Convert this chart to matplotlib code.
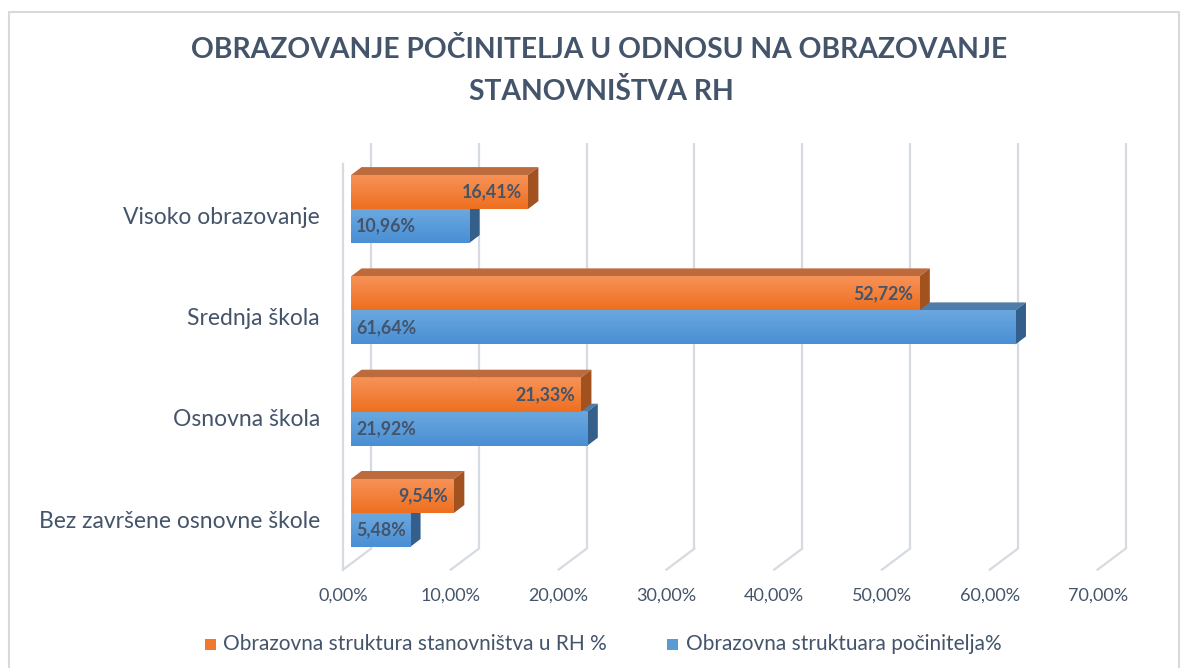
import numpy as np
import matplotlib
matplotlib.use("Agg")
import matplotlib.pyplot as plt
from matplotlib.patches import Polygon, Rectangle
from matplotlib.colors import LinearSegmentedColormap

# ---- data ----
categories = ["Bez završene osnovne škole", "Osnovna škola", "Srednja škola", "Visoko obrazovanje"]
populacija = [9.54, 21.33, 52.72, 16.41]      # Obrazovna struktura stanovništva u RH %
pocinitelji = [5.48, 21.92, 61.64, 10.96]     # Obrazovna struktuara počinitelja%
series_names = ["Obrazovna struktura stanovništva u RH %", "Obrazovna struktuara počinitelja%"]
xticks = [0, 10, 20, 30, 40, 50, 60, 70]
title = "OBRAZOVANJE POČINITELJA U ODNOSU NA OBRAZOVANJE\nSTANOVNIŠTVA RH"

TXT = "#44546a"
FONT = "Lato"

W, H = 1182, 668
fig = plt.figure(figsize=(W / 100, H / 100), dpi=100)
ax = fig.add_axes([0, 0, 1, 1])
ax.axis("off")

# pixel scale of the plot (layout)
PXX = 10.78      # px per percent
PXY = 101.3      # px per category
X0 = 351         # px of 0 at bar front plane
Y0 = 513         # px of first category centre
ax.set_xlim(-X0 / PXX, (W - X0) / PXX)
ax.set_ylim((Y0 - H) / PXY, Y0 / PXY)

def dx(p):
    return p / PXX

def dy(p):
    return p / PXY

# ---- walls / gridlines ----
GRID = "#d6dae1"
back = (dx(20), dy(15))
front = (dx(-8), dy(-6))
ylo, yhi = -0.5, len(categories) - 0.5
for v in xticks:
    bx = v + back[0]
    ax.plot([bx, bx], [ylo + back[1], yhi + back[1]], color=GRID, lw=1.6, zorder=1,
            solid_capstyle="butt")
    ax.plot([bx, v + front[0]], [ylo + back[1], ylo + front[1]], color=GRID, lw=1.6, zorder=1)
    ax.text(v + front[0], (Y0 - 596) / PXY, f"{v:.2f}%".replace(".", ","), ha="center",
            va="center", fontsize=13, color=TXT, family=FONT)
ax.plot([front[0], front[0]], [ylo + front[1], yhi + front[1]], color=GRID, lw=1.6, zorder=1)

# ---- bars ----
BH = dy(34)
DX, DY = dx(10.5), dy(8)

cm_or = LinearSegmentedColormap.from_list("or", ["#ee6f1f", "#f79257"])
cm_bl = LinearSegmentedColormap.from_list("bl", ["#4a8fd4", "#6aa8df"])
grad = np.linspace(0, 1, 64).reshape(-1, 1)


def bar3d(x, y0, cmap, top_c, side_c, z):
    y1 = y0 + BH
    # top face
    ax.add_patch(Polygon([(0, y1), (x, y1), (x + DX, y1 + DY), (DX, y1 + DY)],
                         closed=True, fc=top_c, ec="none", zorder=z))
    # side face
    ax.add_patch(Polygon([(x, y0), (x + DX, y0 + DY), (x + DX, y1 + DY), (x, y1)],
                         closed=True, fc=side_c, ec="none", zorder=z))
    # front face with gradient
    rect = Rectangle((0, y0), x, BH, fc="none", ec="none", zorder=z)
    ax.add_patch(rect)
    im = ax.imshow(grad, cmap=cmap, extent=(0, x, y0, y1), origin="lower",
                   aspect="auto", zorder=z + 0.1, interpolation="bilinear")
    im.set_clip_path(rect)


for i, cat in enumerate(categories):
    # blue (below centre) first, orange on top
    bar3d(pocinitelji[i], i - BH, cm_bl, "#4f7ca8", "#345f8b", 2 + i * 0.01)
    bar3d(populacija[i], i, cm_or, "#bd6a3c", "#a1521e", 3 + i * 0.01)
    ax.text(populacija[i] - dx(6), i + BH / 2, f"{populacija[i]:.2f}%".replace(".", ","),
            ha="right", va="center", fontsize=12.8, fontweight="bold", color=TXT,
            family=FONT, zorder=5)
    ax.text(dx(5), i - BH / 2, f"{pocinitelji[i]:.2f}%".replace(".", ","),
            ha="left", va="center", fontsize=12.8, fontweight="bold", color=TXT,
            family=FONT, zorder=5)
    ax.text((320 - X0) / PXX, i - dy(8), cat, ha="right", va="center", fontsize=16.5,
            color=TXT, family=FONT)

# ---- title ----
ax.text((599 - X0) / PXX, (Y0 - 50) / PXY, title.split("\n")[0], ha="center", va="center",
        fontsize=20.3, fontweight="bold", color=TXT, family=FONT)
ax.text((601 - X0) / PXX, (Y0 - 92) / PXY, title.split("\n")[1], ha="center", va="center",
        fontsize=20.3, fontweight="bold", color=TXT, family=FONT)

# ---- legend ----
ly = (Y0 - 644) / PXY
for sx, tx, name, col in [(205, 223, series_names[0], "#f0792f"),
                          (667, 686, series_names[1], "#5b9bd5")]:
    ax.add_patch(Rectangle(((sx - X0) / PXX, ly - dy(5.5)), dx(10.5), dy(11), fc=col, ec="none"))
    ax.text((tx - X0) / PXX, ly, name, ha="left", va="center", fontsize=15, color=TXT,
            family=FONT)

# chart border
ax.add_patch(Rectangle((9 / W, -0.1), (W - 12) / W, 1.1 - 12 / H, transform=ax.transAxes,
                       fill=False, ec="#d9d9d9", lw=1.5, clip_on=False))

fig.savefig("out.png", dpi=100)
